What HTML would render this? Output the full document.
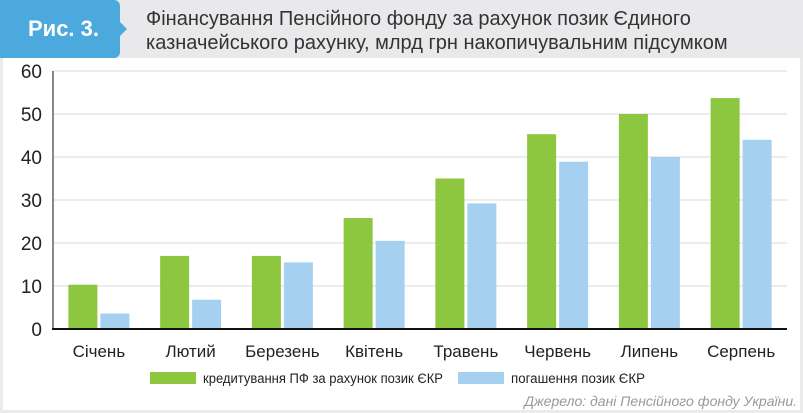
<!DOCTYPE html>
<html><head><meta charset="utf-8"><style>
body{margin:0;width:803px;height:413px;background:#ebebeb;font-family:"Liberation Sans",sans-serif;overflow:hidden;position:relative}
#panel{position:absolute;left:3px;top:58px;width:797px;height:352px;background:#fff}
#hdr{position:absolute;left:0;top:0;width:803px;height:58px;background:#e9e9eb}
#badge{position:absolute;left:0;top:0;width:120px;height:58px;background:#4ba9dd;border-radius:0 6px 6px 0;color:#fff;font-weight:bold;font-size:22px;line-height:58px;text-indent:28px}
#arrow{position:absolute;left:120px;top:22px;width:0;height:0;border-top:7px solid transparent;border-bottom:7px solid transparent;border-left:7px solid #4ba9dd}
#title{position:absolute;left:146px;top:7px;font-size:20px;line-height:24px;color:#333}
svg{position:absolute;left:0;top:0}
</style></head><body>
<div id="hdr"></div>
<div id="badge">Рис. 3.</div>
<div id="arrow"></div>
<div id="title">Фінансування Пенсійного фонду за рахунок позик Єдиного<br>казначейського рахунку, млрд грн накопичувальним підсумком</div>
<div id="panel"></div>
<svg id="chart" width="803" height="413"></svg>
<script>
const categories=["Січень","Лютий","Березень","Квітень","Травень","Червень","Липень","Серпень"];
const credit=[10.3,17,17,25.8,35,45.3,50,53.7];
const repay=[3.6,6.8,15.5,20.5,29.2,38.9,40,44];
const yTicks=[0,10,20,30,40,50,60];
const ns="http://www.w3.org/2000/svg",svg=document.getElementById('chart');
const x0=53,x1=787,y0=329,yTop=71,yMax=60;
const y=v=>y0-(v/yMax)*(y0-yTop);
const gw=(x1-x0)/categories.length;
function mk(t,a,txt){const e=document.createElementNS(ns,t);for(const k in a)e.setAttribute(k,a[k]);if(txt!=null)e.textContent=txt;svg.appendChild(e);return e;}
yTicks.forEach(t=>{
 if(t>0){const g=mk('line',{x1:x0,x2:x1,y1:y(t),y2:y(t),stroke:'#d9d9d9','stroke-width':1});
 
 }
 const l=mk('text',{x:42,y:y(t)+7,'text-anchor':'end','font-size':19,fill:'#222','font-family':'Liberation Sans'},t);
 
 
});
const ya=mk('line',{x1:x0,x2:x0,y1:yTop,y2:y0,stroke:'#888','stroke-width':2});


categories.forEach((c,i)=>{
 const cx=x0+gw*i+gw/2,bw=29;
 const b1=mk('rect',{x:cx-bw-1.5,y:y(credit[i]),width:bw,height:y0-y(credit[i]),fill:'#8dc63f'});
 
 
 const b2=mk('rect',{x:cx+1.5,y:y(repay[i]),width:bw,height:y0-y(repay[i]),fill:'#a5d0ef'});
 
 
 const t=mk('text',{x:cx,y:357,'text-anchor':'middle','font-size':17,fill:'#222','font-family':'Liberation Sans'},c);
 
 
});
const xa=mk('line',{x1:x0-1,x2:x1,y1:y0,y2:y0,stroke:'#111','stroke-width':2});


const s1=mk('rect',{x:150,y:372,width:46,height:12,fill:'#8dc63f'});


const l1=mk('text',{x:203,y:383,'font-size':13.5,fill:'#222','font-family':'Liberation Sans',textLength:240,lengthAdjust:'spacingAndGlyphs'},'кредитування ПФ за рахунок позик ЄКР');


const s2=mk('rect',{x:458,y:372,width:46,height:12,fill:'#a5d0ef'});


const l2=mk('text',{x:511,y:383,'font-size':13.5,fill:'#222','font-family':'Liberation Sans',textLength:134,lengthAdjust:'spacingAndGlyphs'},'погашення позик ЄКР');


const src=mk('text',{x:797,y:406,'text-anchor':'end','font-size':14,'font-style':'italic',fill:'#999','font-family':'Liberation Sans'},'Джерело: дані Пенсійного фонду України.');


</script>
</body></html>
